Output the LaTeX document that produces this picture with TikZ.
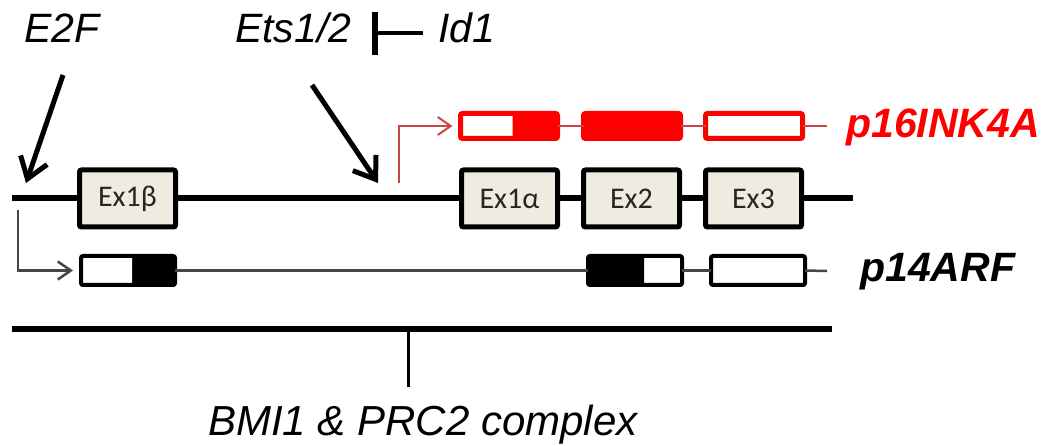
\documentclass[tikz,border=0pt]{standalone}
\usepackage{fontspec}
\setmainfont{Liberation Sans}
\newfontfamily\exfont{Carlito}
\usetikzlibrary{arrows.meta}
\definecolor{exfill}{RGB}{238,236,225}
\definecolor{pred}{RGB}{255,0,0}
\definecolor{thinred}{RGB}{205,70,70}
\definecolor{thingray}{RGB}{70,70,70}
\begin{document}
\begin{tikzpicture}[x=1pt,y=-1pt,
  exbox/.style={draw=black, line width=5pt, fill=exfill, rounded corners=2pt,
    minimum width=96pt, minimum height=57pt, inner sep=0pt, outer sep=0pt,
    font=\exfont\fontsize{30}{33}\selectfont, text=black!85},
  redbox/.style={draw=pred, line width=5pt, fill=pred, rounded corners=2pt,
    minimum width=97pt, minimum height=25pt, inner sep=0pt, outer sep=0pt},
  arfbox/.style={draw=black, line width=4pt, fill=white, rounded corners=2pt,
    minimum width=94pt, minimum height=29pt, inner sep=0pt, outer sep=0pt},
  halfleft/.style n args={2}{path picture={\fill[#1] (path picture bounding box.north west) rectangle ([xshift=#2]path picture bounding box.south west);}},
  lbl/.style={font=\fontsize{41}{48}\selectfont\itshape, inner sep=0pt, anchor=base west},
  blbl/.style={font=\fontsize{41}{48}\selectfont\bfseries\itshape, inner sep=0pt, anchor=base west},
  bigarrow/.style={line width=5pt, -{Straight Barb[length=20pt,width=28pt]}},
  thickline/.style={line width=6pt},
  rline/.style={draw=thinred, line width=2pt},
  gline/.style={draw=thingray, line width=2.5pt},
]
\useasboundingbox (0,0) rectangle (1049,446);

% main genomic line
\coordinate (mL) at (12,198);
\coordinate (mR) at (853,198);
\draw[thickline] (mL) -- (mR);

% exons
\node[exbox] (ex1b) at (127.5,198.5) {Ex1β};
\node[exbox] (ex1a) at (509.5,198.5) {Ex1α};
\node[exbox] (ex2)  at (631.5,198.5) {Ex2};
\node[exbox] (ex3)  at (753.5,198.5) {Ex3};

% p16INK4A transcript
\coordinate (rEnd) at (827,126);
\node[redbox, halfleft={white}{52pt}] (r1) at (509,126) {};
\node[redbox] (r2) at (632,126) {};
\node[redbox, fill=white] (r3) at (754,126) {};
\draw[rline] (r1.east) -- (r2.west);
\draw[rline] (r2.east) -- (r3.west);
\draw[rline] (r3.east) -- (rEnd);
\coordinate (tssR) at (399,183);
\draw[rline, -{Straight Barb[length=13pt,width=18pt]}] (tssR) |- ([xshift=-8pt]r1.west);
\node[blbl, text=pred] (p16) at (846,138) {p16INK4A};

% p14ARF transcript
\coordinate (aEnd) at (827,271);
\node[arfbox, fill=black, halfleft={white}{51pt}] (a1) at (128,270.5) {};
\node[arfbox, halfleft={black}{56pt}] (a2) at (635,270.5) {};
\node[arfbox] (a3) at (758,270.5) {};
\draw[gline] (a1.east) -- (a2.west);
\draw[gline] (a2.east) -- (a3.west);
\draw[gline] (a3.east) -- (aEnd);
\coordinate (tssB) at (18,210);
\draw[gline, -{Straight Barb[length=13pt,width=18pt]}] (tssB) |- ([xshift=-8pt]a1.west);
\node[blbl] (p14) at (860,282) {p14ARF};

% regulators
\node[lbl] (e2f) at (24,43) {E2F};
\node[lbl] (ets) at (235,43) {Ets1/2};
\node[lbl] (id1) at (438,43) {Id1};
\coordinate (e2fS) at (63,75);
\coordinate (e2fT) at (26,183);
\draw[bigarrow] (e2fS) -- (e2fT);
\coordinate (etsS) at (312,85);
\coordinate (etsT) at (378,183);
\draw[bigarrow] (etsS) -- (etsT);
% Id1 inhibits Ets1/2
\coordinate (inhS) at (423,33.5);
\coordinate (inhT) at (375,33.5);
\coordinate (barTop) at (375,12);
\coordinate (barBot) at (375,55);
\draw[line width=4pt] (inhS) -- (inhT);
\draw[line width=5.5pt] (barTop) -- (barBot);

% BMI1 & PRC2 complex
\coordinate (bL) at (12,329);
\coordinate (bR) at (832,329);
\draw[thickline] (bL) -- (bR);
\coordinate (bTick) at (408,329);
\coordinate (bTickEnd) at (408,387);
\draw[line width=3pt] (bTick) -- (bTickEnd);
\node[lbl, font=\fontsize{42}{48}\selectfont\itshape, anchor=base] (bmi) at (423,435) {BMI1 \& PRC2 complex};
\end{tikzpicture}
\end{document}
